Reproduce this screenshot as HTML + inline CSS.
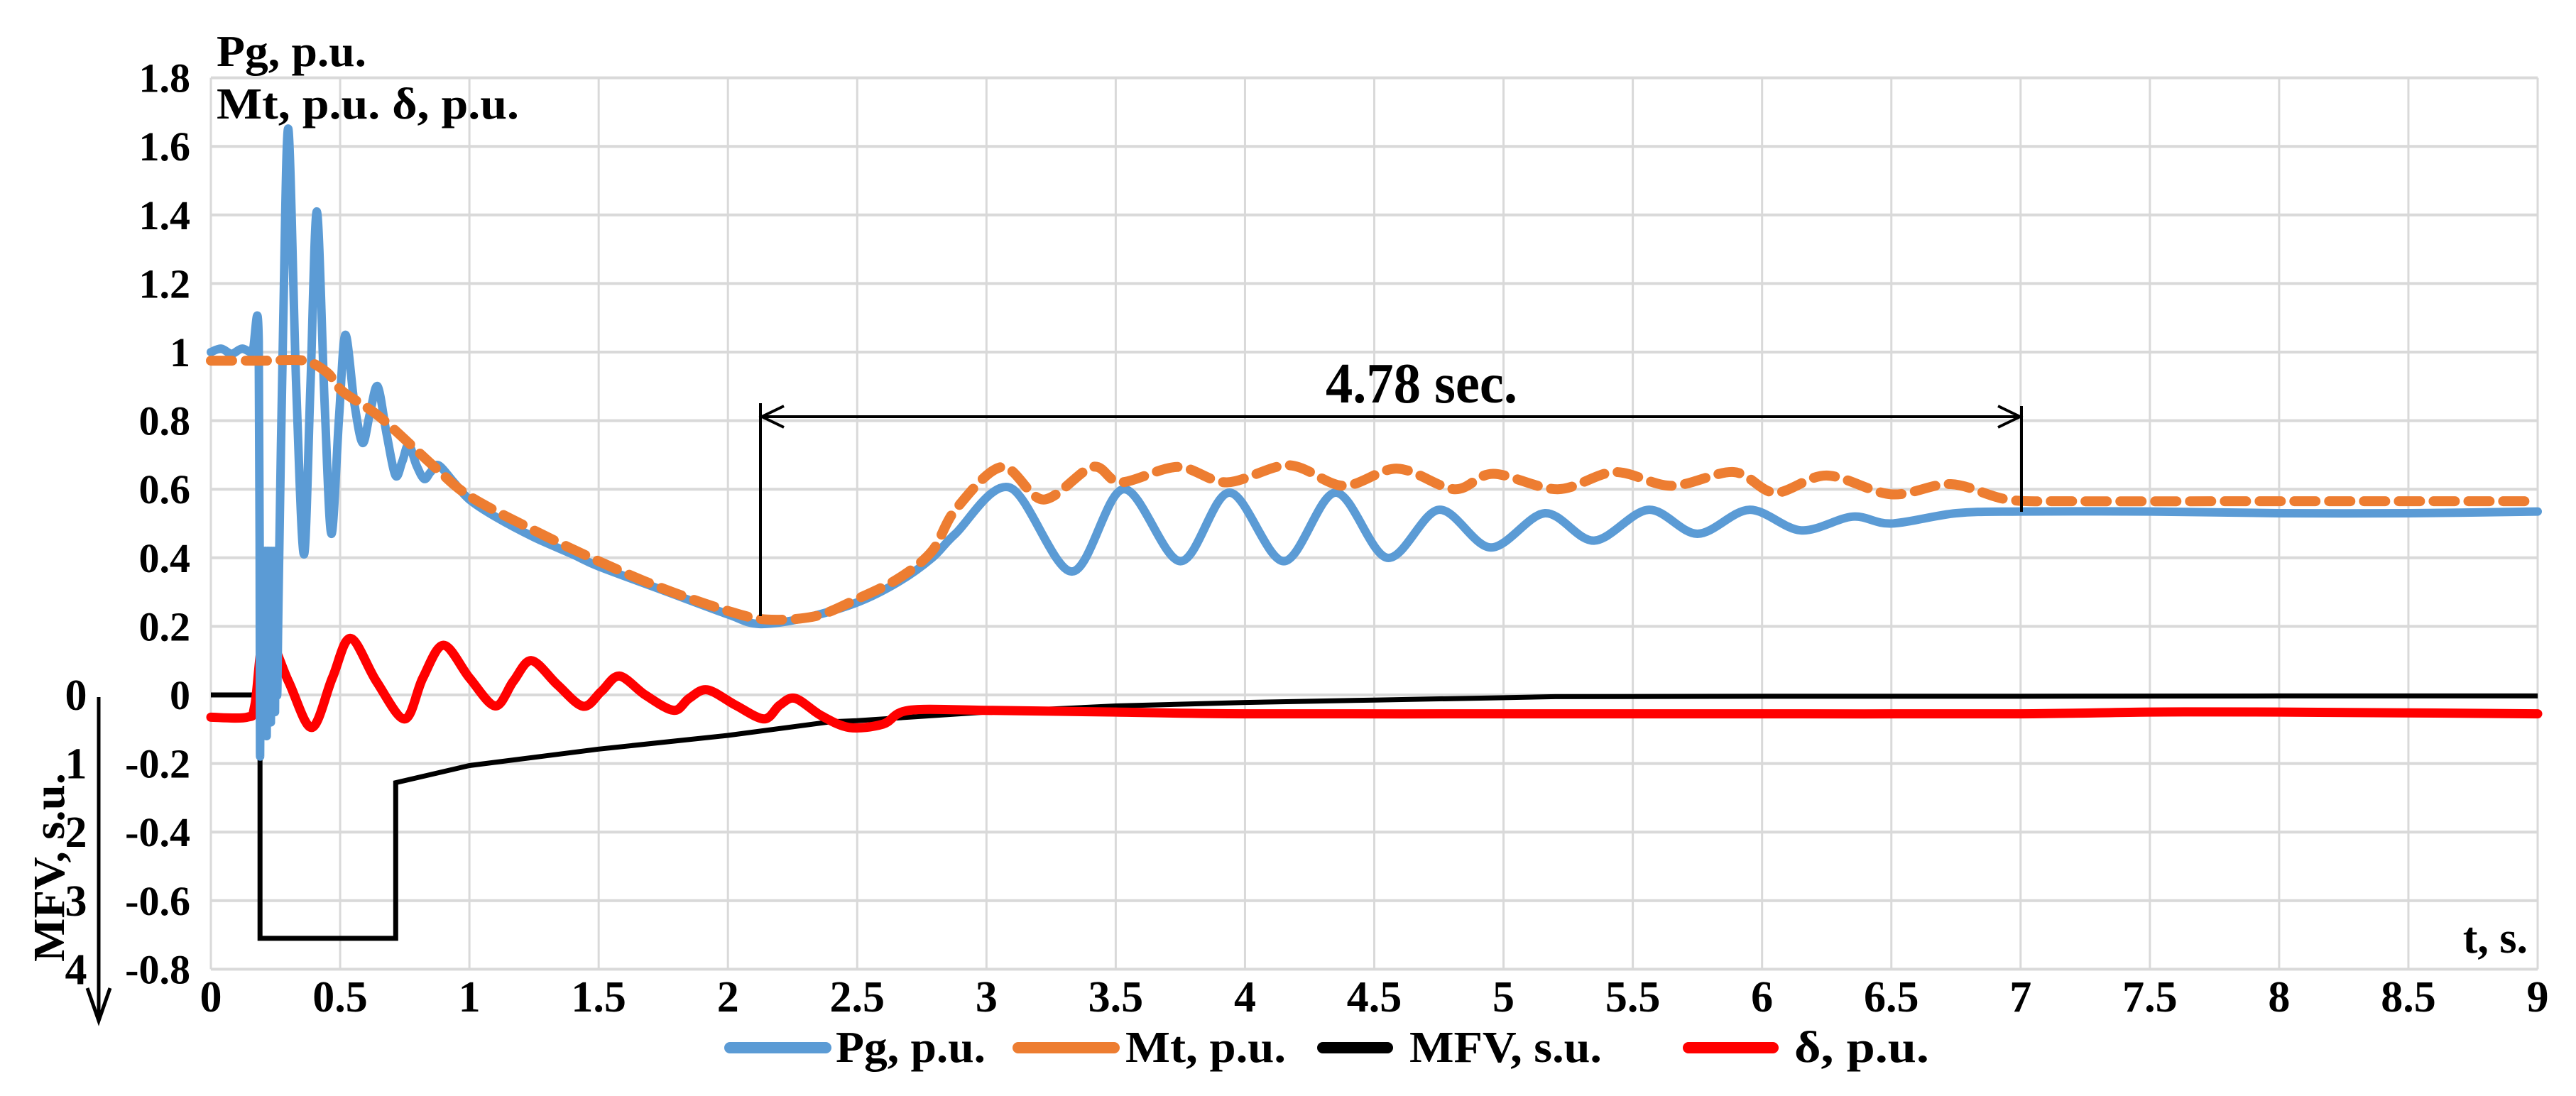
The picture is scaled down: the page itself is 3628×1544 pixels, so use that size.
<!DOCTYPE html>
<html><head><meta charset="utf-8"><style>
html,body{margin:0;padding:0;background:#fff;}
svg{display:block;}
text{font-family:"Liberation Serif","Times New Roman","DejaVu Serif",serif;font-weight:bold;fill:#000;}
</style></head><body>
<svg id="chart" width="3628" height="1544" viewBox="0 0 3628 1544" xmlns="http://www.w3.org/2000/svg" font-family="Liberation Serif, serif" font-weight="bold">
<g id="grid"></g>
<g id="labels"></g>
<g id="series"></g>
<text x="305" y="93" font-size="62" textLength="211" lengthAdjust="spacingAndGlyphs">Pg, p.u.</text>
<text x="305" y="167" font-size="62" textLength="426" lengthAdjust="spacingAndGlyphs">Mt, p.u. δ, p.u.</text>
<text x="3560" y="1342" font-size="62" text-anchor="end">t, s.</text>
<text transform="translate(90,1222) rotate(-90)" font-size="62" text-anchor="middle" textLength="266" lengthAdjust="spacingAndGlyphs">MFV, s.u.</text>
<g stroke="#000" stroke-width="5" fill="none">
<line x1="139" y1="982" x2="139" y2="1438"/>
<polyline points="123,1392 139,1438 155,1392"/>
</g>
<g stroke="#000" stroke-width="4" fill="none">
<line x1="1071" y1="568" x2="1071" y2="868"/>
<line x1="2847" y1="572" x2="2847" y2="721"/>
<line x1="1071" y1="587" x2="2847" y2="587"/>
<polyline points="1104,572 1073,587 1104,602"/>
<polyline points="2814,572 2845,587 2814,602"/>
</g>
<text x="1867" y="567" font-size="80" textLength="270" lengthAdjust="spacingAndGlyphs">4.78 sec.</text>
<g id="legend">
<g><line x1="1028" y1="1476" x2="1163" y2="1476" stroke="#5b9bd5" stroke-width="16" stroke-linecap="round"/><text x="1177" y="1496" font-size="62" textLength="211" lengthAdjust="spacingAndGlyphs">Pg, p.u.</text></g>
<g><line x1="1434" y1="1476" x2="1569" y2="1476" stroke="#ed7d31" stroke-width="16" stroke-linecap="round"/><text x="1585" y="1496" font-size="62" textLength="226" lengthAdjust="spacingAndGlyphs">Mt, p.u.</text></g>
<g><line x1="1863" y1="1476" x2="1954" y2="1476" stroke="#000" stroke-width="16" stroke-linecap="round"/><text x="1985" y="1496" font-size="62" textLength="271" lengthAdjust="spacingAndGlyphs">MFV, s.u.</text></g>
<g><line x1="2378" y1="1476" x2="2497" y2="1476" stroke="#ff0000" stroke-width="16" stroke-linecap="round"/><text x="2527" y="1496" font-size="62" textLength="190" lengthAdjust="spacingAndGlyphs">δ, p.u.</text></g>
</g>
</svg>
<script>
// ---- data ----
const xTicks = [0,0.5,1,1.5,2,2.5,3,3.5,4,4.5,5,5.5,6,6.5,7,7.5,8,8.5,9];
const xTickLabels = ["0","0.5","1","1.5","2","2.5","3","3.5","4","4.5","5","5.5","6","6.5","7","7.5","8","8.5","9"];
const yTicks = [-0.8,-0.6,-0.4,-0.2,0,0.2,0.4,0.6,0.8,1,1.2,1.4,1.6,1.8];
const yTickLabels = ["-0.8","-0.6","-0.4","-0.2","0","0.2","0.4","0.6","0.8","1","1.2","1.4","1.6","1.8"];
const mfvTicks = [0,1,2,3,4];
const mfvTickLabels = ["0","1","2","3","4"];

const pgT = [0,0.04,0.08,0.12,0.16,0.185,0.19,0.195,0.2,0.204,0.208,0.212,0.216,0.22,0.224,0.228,0.232,0.236,0.24,0.244,0.248,0.252,0.256,0.262,0.28,0.30,0.33,0.36,0.385,0.41,0.44,0.466,0.495,0.52,0.555,0.587,0.615,0.645,0.68,0.714,0.74,0.765,0.795,0.825,0.85,0.88,0.94,1.0,1.1,1.25,1.4,1.5,1.75,2.0,2.12,2.3,2.5,2.66,2.79,2.88,3.09,3.33,3.53,3.75,3.94,4.15,4.35,4.55,4.75,4.95,5.16,5.35,5.56,5.75,5.95,6.15,6.35,6.5,6.75,7.0,7.5,8.0,8.5,9.0];
const pgV = [1.0,1.01,0.995,1.01,1.0,1.03,-0.17,0.42,-0.1,0.42,-0.05,0.42,-0.12,0.42,-0.05,0.42,-0.08,0.42,-0.04,0.42,-0.05,0.42,0.0,0.3,1.1,1.65,0.9,0.41,0.9,1.41,0.85,0.47,0.8,1.05,0.85,0.735,0.82,0.90,0.76,0.64,0.68,0.73,0.67,0.63,0.65,0.67,0.62,0.57,0.52,0.46,0.41,0.375,0.305,0.235,0.207,0.225,0.27,0.33,0.40,0.47,0.605,0.36,0.60,0.39,0.59,0.39,0.59,0.40,0.54,0.43,0.53,0.45,0.54,0.47,0.54,0.48,0.52,0.50,0.53,0.535,0.535,0.53,0.53,0.535];

const mtT = [0,0.2,0.36,0.45,0.51,0.655,0.865,1.0,1.25,1.5,1.75,2.0,2.15,2.34,2.5,2.66,2.79,2.88,3.06,3.22,3.41,3.52,3.74,3.93,4.17,4.38,4.59,4.81,4.96,5.21,5.43,5.65,5.89,6.05,6.25,6.5,6.73,6.95,7.2,8.0,9.0];
const mtV = [0.975,0.975,0.975,0.94,0.885,0.81,0.665,0.58,0.48,0.39,0.31,0.245,0.22,0.23,0.28,0.34,0.42,0.54,0.665,0.57,0.665,0.62,0.665,0.62,0.67,0.61,0.66,0.60,0.645,0.60,0.65,0.61,0.65,0.59,0.64,0.585,0.615,0.57,0.565,0.565,0.565];

const mfvT = [0,0.19,0.19,0.715,0.715,1.0,1.5,2.0,2.4,2.5,3.0,3.5,4.0,4.5,5.0,5.2,6.0,7.0,8.0,9.0];
const mfvV = [0,0,3.55,3.55,1.28,1.03,0.79,0.59,0.39,0.375,0.25,0.16,0.11,0.075,0.04,0.025,0.02,0.02,0.015,0.015];

const deltaT = [0,0.14,0.17,0.21,0.3,0.39,0.47,0.54,0.64,0.75,0.82,0.90,1.0,1.1,1.17,1.24,1.34,1.44,1.51,1.58,1.68,1.79,1.85,1.92,2.03,2.14,2.2,2.26,2.36,2.47,2.6,2.7,3.0,3.5,4.0,5.0,6.0,7.0,7.5,8.0,9.0];
const deltaV = [-0.065,-0.065,-0.03,0.18,0.04,-0.095,0.05,0.165,0.04,-0.07,0.05,0.145,0.05,-0.032,0.04,0.10,0.03,-0.033,0.01,0.055,0.0,-0.045,-0.01,0.015,-0.03,-0.07,-0.03,-0.01,-0.06,-0.095,-0.085,-0.045,-0.045,-0.05,-0.055,-0.055,-0.055,-0.055,-0.05,-0.05,-0.055];

// ---- scales ----
const X0 = 297, X1 = 3574, Y0 = 979, PXU = 483;
const xScale = t => X0 + (X1 - X0) * t / 9;
const yScale = v => Y0 - v * PXU;
const mfvScale = m => yScale(-0.2 * m);
const NS = "http://www.w3.org/2000/svg";
function mk(tag, parent, attrs){ const e = document.createElementNS(NS, tag); for (const k in attrs) e.setAttribute(k, attrs[k]); parent.appendChild(e); return e; }

const grid = document.getElementById('grid');
const labels = document.getElementById('labels');
xTicks.forEach((t,i) => {
  const l = mk('line', grid, {x1:xScale(t), x2:xScale(t), y1:yScale(1.8), y2:yScale(-0.8), stroke:'#d9d9d9', 'stroke-width':3});
  
  
  const tx = mk('text', labels, {x:xScale(t), y:1425, 'font-size':62, 'text-anchor':'middle'});
  tx.textContent = xTickLabels[i];
  
  
});
yTicks.forEach((v,i) => {
  const l = mk('line', grid, {x1:X0, x2:X1, y1:yScale(v), y2:yScale(v), stroke:'#d9d9d9', 'stroke-width':4});
  
  
  const tx = mk('text', labels, {x:268, y:yScale(v)+20, 'font-size':58, 'text-anchor':'end'});
  tx.textContent = yTickLabels[i];
  
  
});
mfvTicks.forEach((m,i) => {
  const tx = mk('text', labels, {x:107, y:mfvScale(m)+21, 'font-size':62, 'text-anchor':'middle'});
  tx.textContent = mfvTickLabels[i];
  
  
});

const series = document.getElementById('series');
function pathD(ts, vs, ys){ return ts.map((t,i) => (i ? 'L' : 'M') + xScale(t).toFixed(1) + ' ' + ys(vs[i]).toFixed(1)).join(' '); }
function smoothD(ts, vs, ys){
  const p = ts.map((t,i) => [xScale(t), ys(vs[i])]);
  let d = 'M' + p[0][0].toFixed(1) + ' ' + p[0][1].toFixed(1);
  for (let i = 0; i < p.length - 1; i++) {
    const p0 = p[i-1] || p[i], p1 = p[i], p2 = p[i+1], p3 = p[i+2] || p2;
    const k = 0.16;
    const c1 = [p1[0] + (p2[0]-p0[0])*k, p1[1] + (p2[1]-p0[1])*k];
    const c2 = [p2[0] - (p3[0]-p1[0])*k, p2[1] - (p3[1]-p1[1])*k];
    d += ' C' + c1[0].toFixed(1) + ' ' + c1[1].toFixed(1) + ' ' + c2[0].toFixed(1) + ' ' + c2[1].toFixed(1) + ' ' + p2[0].toFixed(1) + ' ' + p2[1].toFixed(1);
  }
  return d;
}

const mfvPath = mk('path', series, {d:pathD(mfvT, mfvV, mfvScale), fill:'none', stroke:'#000', 'stroke-width':7, 'stroke-linejoin':'miter'});



const deltaPath = mk('path', series, {d:smoothD(deltaT, deltaV, yScale), fill:'none', stroke:'#ff0000', 'stroke-width':13, 'stroke-linejoin':'round', 'stroke-linecap':'round'});



const pgPath = mk('path', series, {d:smoothD(pgT, pgV, yScale), fill:'none', stroke:'#5b9bd5', 'stroke-width':12, 'stroke-linejoin':'round', 'stroke-linecap':'round'});



const mtPath = mk('path', series, {d:smoothD(mtT, mtV, yScale), fill:'none', stroke:'#ed7d31', 'stroke-width':14, 'stroke-dasharray':'30 19', 'stroke-linejoin':'round', 'stroke-linecap':'round'});


</script>
</body></html>
